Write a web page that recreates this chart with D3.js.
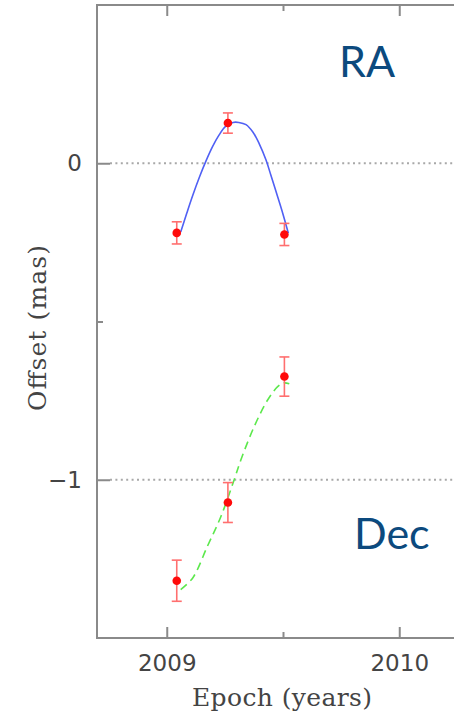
<!DOCTYPE html>
<html>
<head>
<meta charset="utf-8">
<script src="https://cdn.jsdelivr.net/npm/d3@7"></script>
<style>
  html, body { margin: 0; padding: 0; background: #fff; overflow: hidden; }
  svg { display: block; }
</style>
</head>
<body>
<svg id="chart" width="454" height="716"></svg>
<script>
// Observation epochs (years) shared by both coordinates
const epochs = [2009.043, 2009.263, 2009.506];

// Right ascension offsets (mas) and 1-sigma errors
const raOffsets = [-0.220, 0.127, -0.225];
const raErrors  = [0.035, 0.032, 0.035];

// Declination offsets (mas) and 1-sigma errors
const decOffsets = [-1.319, -1.072, -0.674];
const decErrors  = [0.065, 0.063, 0.062];

// Fitted model tracks, sampled along the epoch range
const raFitEpochs  = [2009.060, 2009.086, 2009.112, 2009.142, 2009.168, 2009.198, 2009.224, 2009.254, 2009.285, 2009.310, 2009.341, 2009.371, 2009.397, 2009.427, 2009.448, 2009.477, 2009.500, 2009.523];
const raFitOffsets = [-0.217, -0.158, -0.101, -0.041, 0.006, 0.054, 0.088, 0.117, 0.129, 0.129, 0.122, 0.098, 0.063, 0.010, -0.038, -0.106, -0.161, -0.221];

const decFitEpochs  = [2009.060, 2009.111, 2009.175, 2009.233, 2009.290, 2009.319, 2009.376, 2009.434, 2009.477, 2009.504, 2009.527];
const decFitOffsets = [-1.347, -1.311, -1.210, -1.116, -1.000, -0.937, -0.832, -0.748, -0.706, -0.694, -0.697];

// Axis ticks
const xMajorTicks = [2009, 2010];
const xMinorTicks = [2009.5];
const yMajorTicks = [0, -1];
const yMinorTicks = [-0.5];
const refLines = [0, -1];

const svg = d3.select("#chart");
const plotLeft = 97, plotTop = 5, plotBottom = 638, plotRight = 469;

const x = d3.scaleLinear().domain([2008.7, 2010.3]).range([plotLeft, plotRight]);
const y = d3.scaleLinear().domain([-1.5, 0.5]).range([plotBottom, plotTop]);

const axisColor = "#8a8a8a";
const textColor = "#444444";

// Dotted reference lines
svg.selectAll("line.ref").data(refLines).join("line")
  .attr("class", "ref")
  .attr("x1", plotLeft + 13).attr("x2", plotRight)
  .attr("y1", d => y(d)).attr("y2", d => y(d))
  .attr("stroke", "#a8a8a8").attr("stroke-width", 1.8)
  .attr("stroke-dasharray", "2,3.4");

// Frame
svg.append("rect")
  .attr("x", plotLeft).attr("y", plotTop)
  .attr("width", plotRight - plotLeft).attr("height", plotBottom - plotTop)
  .attr("fill", "none").attr("stroke", axisColor).attr("stroke-width", 2);

function styleAxis(g) {
  g.select(".domain").remove();
  g.selectAll(".tick line").attr("stroke", axisColor).attr("stroke-width", 2);
  g.selectAll(".tick text")
    .attr("fill", textColor)
    .attr("font-family", "'DejaVu Sans', sans-serif")
    .attr("font-size", 23);
}

// Bottom axis with labels
svg.append("g").attr("transform", `translate(0,${plotBottom})`)
  .call(d3.axisBottom(x).tickValues(xMajorTicks).tickFormat(d3.format("d")).tickSize(-11).tickPadding(17))
  .call(styleAxis);
svg.append("g").attr("transform", `translate(0,${plotBottom})`)
  .call(d3.axisBottom(x).tickValues(xMinorTicks).tickFormat("").tickSize(-6))
  .call(styleAxis);

// Top axis, ticks only
svg.append("g").attr("transform", `translate(0,${plotTop})`)
  .call(d3.axisTop(x).tickValues(xMajorTicks).tickFormat("").tickSize(-11))
  .call(styleAxis);
svg.append("g").attr("transform", `translate(0,${plotTop})`)
  .call(d3.axisTop(x).tickValues(xMinorTicks).tickFormat("").tickSize(-6))
  .call(styleAxis);

// Left axis with labels
svg.append("g").attr("transform", `translate(${plotLeft},0)`)
  .call(d3.axisLeft(y).tickValues(yMajorTicks).tickFormat(d3.format("d")).tickSize(-13).tickPadding(15))
  .call(styleAxis);
svg.append("g").attr("transform", `translate(${plotLeft},0)`)
  .call(d3.axisLeft(y).tickValues(yMinorTicks).tickFormat("").tickSize(-6))
  .call(styleAxis);

// Axis titles
svg.append("text")
  .attr("x", 282).attr("y", 706)
  .attr("text-anchor", "middle")
  .attr("font-family", "'DejaVu Serif', serif").attr("font-size", 25)
  .attr("fill", textColor)
  .attr("textLength", 180).attr("lengthAdjust", "spacing")
  .text("Epoch (years)");

svg.append("text")
  .attr("transform", "translate(46,328) rotate(-90)")
  .attr("text-anchor", "middle")
  .attr("font-family", "'DejaVu Serif', serif").attr("font-size", 25)
  .attr("fill", textColor)
  .attr("textLength", 166).attr("lengthAdjust", "spacing")
  .text("Offset (mas)");

// Model tracks
const line = d3.line().x(d => x(d[0])).y(d => y(d[1])).curve(d3.curveCatmullRom);

svg.append("path")
  .datum(d3.zip(raFitEpochs, raFitOffsets))
  .attr("d", line)
  .attr("fill", "none").attr("stroke", "#5060f4").attr("stroke-width", 1.6);

svg.append("path")
  .datum(d3.zip(decFitEpochs, decFitOffsets))
  .attr("d", line)
  .attr("fill", "none").attr("stroke", "#5ce84c").attr("stroke-width", 1.6)
  .attr("stroke-dasharray", "8,5");

// Measurements with error bars
function drawSeries(values, errors) {
  const data = epochs.map((t, i) => ({ t, v: values[i], e: errors[i] }));
  const g = svg.append("g");
  const bars = g.selectAll("g").data(data).join("g");
  bars.append("line")
    .attr("x1", d => x(d.t)).attr("x2", d => x(d.t))
    .attr("y1", d => y(d.v + d.e)).attr("y2", d => y(d.v - d.e))
    .attr("stroke", "#ff6f6f").attr("stroke-width", 1.6);
  [1, -1].forEach(s => {
    bars.append("line")
      .attr("x1", d => x(d.t) - 5).attr("x2", d => x(d.t) + 5)
      .attr("y1", d => y(d.v + s * d.e)).attr("y2", d => y(d.v + s * d.e))
      .attr("stroke", "#ff6f6f").attr("stroke-width", 1.6);
  });
  bars.append("circle")
    .attr("cx", d => x(d.t)).attr("cy", d => y(d.v))
    .attr("r", 4.3).attr("fill", "#ff0a0a");
}
drawSeries(raOffsets, raErrors);
drawSeries(decOffsets, decErrors);

// Panel labels
svg.append("text")
  .attr("x", 339).attr("y", 77)
  .attr("font-family", "Lato, 'Open Sans', sans-serif").attr("font-size", 43)
  .attr("fill", "#0c4a7e")
  .text("RA");
svg.append("text")
  .attr("x", 354).attr("y", 549)
  .attr("font-family", "Lato, 'Open Sans', sans-serif").attr("font-size", 43)
  .attr("fill", "#0c4a7e")
  .text("Dec");
</script>
</body>
</html>
